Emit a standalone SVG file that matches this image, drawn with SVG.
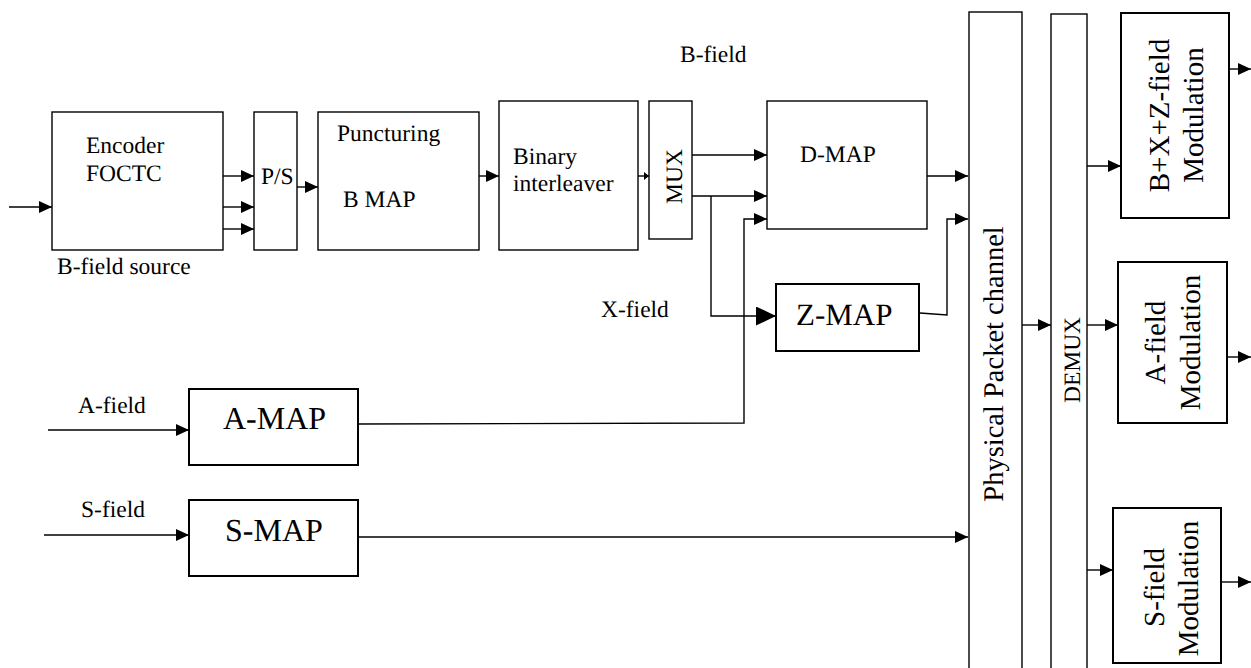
<svg xmlns="http://www.w3.org/2000/svg" width="1251" height="668" viewBox="0 0 1251 668">
<style>
.b{fill:#fff;stroke:#000;stroke-width:1.4}
.bt{fill:#fff;stroke:#000;stroke-width:2}
.t{font-family:"Liberation Serif","Times New Roman",serif;font-size:23.5px;fill:#000;text-rendering:geometricPrecision}
.c{fill:none;stroke:#000;stroke-width:1.4}
</style>
<defs>
<marker id="a" markerUnits="userSpaceOnUse" markerWidth="13" markerHeight="12" refX="13" refY="6" orient="auto"><path d="M0,0 L13,6 L0,12 z" fill="#000"/></marker>
<marker id="al" markerUnits="userSpaceOnUse" markerWidth="20" markerHeight="19" refX="20" refY="9.5" orient="auto"><path d="M0,0 L20,9.5 L0,19 z" fill="#000"/></marker>
<marker id="as" markerUnits="userSpaceOnUse" markerWidth="5" markerHeight="8" refX="5" refY="4" orient="auto"><path d="M0,0 L5,4 L0,8 z" fill="#000"/></marker>
</defs>
<rect width="1251" height="668" fill="#fff"/>

<g id="connectors">
<line class="c" x1="9" y1="207" x2="52" y2="207" marker-end="url(#a)"/>
<line class="c" x1="223" y1="176" x2="254" y2="176" marker-end="url(#a)"/>
<line class="c" x1="223" y1="207" x2="254" y2="207" marker-end="url(#a)"/>
<line class="c" x1="223" y1="229" x2="254" y2="229" marker-end="url(#a)"/>
<line class="c" x1="297" y1="187" x2="318" y2="187" marker-end="url(#a)"/>
<line class="c" x1="479" y1="176" x2="499" y2="176" marker-end="url(#a)"/>
<line class="c" x1="638" y1="176" x2="649" y2="176" marker-end="url(#as)"/>
<line class="c" x1="692" y1="155" x2="767" y2="155" marker-end="url(#a)"/>
<line class="c" x1="692" y1="196" x2="767" y2="196" marker-end="url(#a)"/>
<polyline class="c" points="711,196 711,316 776,316" marker-end="url(#al)"/>
<polyline class="c" points="358,424 744,423 744,219 767,219" marker-end="url(#a)"/>
<line class="c" x1="927" y1="176" x2="968" y2="176" marker-end="url(#a)"/>
<polyline class="c" points="920,313 947,315 947,219 968,219" marker-end="url(#a)"/>
<line class="c" x1="48" y1="430" x2="189" y2="430" marker-end="url(#a)"/>
<line class="c" x1="44" y1="535" x2="189" y2="535" marker-end="url(#a)"/>
<line class="c" x1="358" y1="537" x2="968" y2="537" marker-end="url(#a)"/>
<line class="c" x1="1022" y1="325" x2="1051" y2="325" marker-end="url(#a)"/>
<line class="c" x1="1087" y1="166" x2="1121" y2="166" marker-end="url(#a)"/>
<line class="c" x1="1087" y1="325" x2="1118" y2="325" marker-end="url(#a)"/>
<line class="c" x1="1087" y1="570" x2="1113" y2="570" marker-end="url(#a)"/>
<line class="c" x1="1229" y1="69" x2="1251" y2="69" marker-end="url(#a)"/>
<line class="c" x1="1227" y1="357" x2="1251" y2="357" marker-end="url(#a)"/>
<line class="c" x1="1222" y1="582" x2="1251" y2="582" marker-end="url(#a)"/>
</g>

<g font-family="'Liberation Serif', 'Times New Roman', serif">
<g id="encoder">
<rect class="b" x="52" y="112" width="171" height="138"/>
<text class="t" x="86" y="153">Encoder</text>
<text class="t" x="86" y="181">FOCTC</text>
</g>
<g id="bfield-source-label"><text class="t" x="57" y="274">B-field source</text></g>
<g id="ps">
<rect class="b" x="254" y="112" width="43" height="138"/>
<text class="t" x="261" y="184">P/S</text>
</g>
<g id="puncturing">
<rect class="b" x="318" y="112" width="161" height="138"/>
<text class="t" x="337" y="141">Puncturing</text>
<text class="t" x="343" y="207">B MAP</text>
</g>
<g id="interleaver">
<rect class="b" x="499" y="101" width="139" height="149"/>
<text class="t" x="513" y="164">Binary</text>
<text class="t" x="513" y="191">interleaver</text>
</g>
<g id="mux">
<rect class="b" x="649" y="101" width="43" height="138"/>
<text class="t" transform="translate(682,176.5) rotate(-90)" text-anchor="middle">MUX</text>
</g>
<g id="bfield-label"><text class="t" x="680" y="62">B-field</text></g>
<g id="xfield-label"><text class="t" x="601" y="317">X-field</text></g>
<g id="dmap">
<rect class="b" x="767" y="101" width="160" height="128"/>
<text class="t" x="800" y="162">D-MAP</text>
</g>
<g id="zmap">
<rect class="bt" x="776" y="284" width="143" height="67"/>
<text class="t" x="796" y="325" style="font-size:31px">Z-MAP</text>
</g>
<g id="amap">
<text class="t" x="78" y="413">A-field</text>
<rect class="bt" x="189" y="389" width="169" height="76"/>
<text class="t" x="223" y="429" style="font-size:32px">A-MAP</text>
</g>
<g id="smap">
<text class="t" x="81" y="517">S-field</text>
<rect class="bt" x="189" y="500" width="169" height="76"/>
<text class="t" x="225" y="541" style="font-size:32px">S-MAP</text>
</g>
<g id="channel">
<rect class="b" x="969" y="12" width="53" height="670"/>
<text class="t" transform="translate(1003,364) rotate(-90)" text-anchor="middle" style="font-size:28.5px">Physical Packet channel</text>
</g>
<g id="demux">
<rect class="b" x="1051" y="14" width="36" height="670"/>
<text class="t" transform="translate(1080,360) rotate(-90)" text-anchor="middle">DEMUX</text>
</g>
<g id="bxz-mod">
<rect class="bt" x="1121" y="13" width="108" height="205"/>
<text class="t" transform="translate(1169,115.5) rotate(-90)" text-anchor="middle" style="font-size:29px">B+X+Z-field</text>
<text class="t" transform="translate(1203,115) rotate(-90)" text-anchor="middle" style="font-size:29px">Modulation</text>
</g>
<g id="a-mod">
<rect class="bt" x="1118" y="262" width="109" height="161"/>
<text class="t" transform="translate(1165,342.5) rotate(-90)" text-anchor="middle" style="font-size:29px">A-field</text>
<text class="t" transform="translate(1200,342.5) rotate(-90)" text-anchor="middle" style="font-size:29px">Modulation</text>
</g>
<g id="s-mod">
<rect class="bt" x="1113" y="508" width="108" height="155"/>
<text class="t" transform="translate(1164,587.5) rotate(-90)" text-anchor="middle" style="font-size:29px">S-field</text>
<text class="t" transform="translate(1198,588.5) rotate(-90)" text-anchor="middle" style="font-size:29px">Modulation</text>
</g>
</g>
</svg>
